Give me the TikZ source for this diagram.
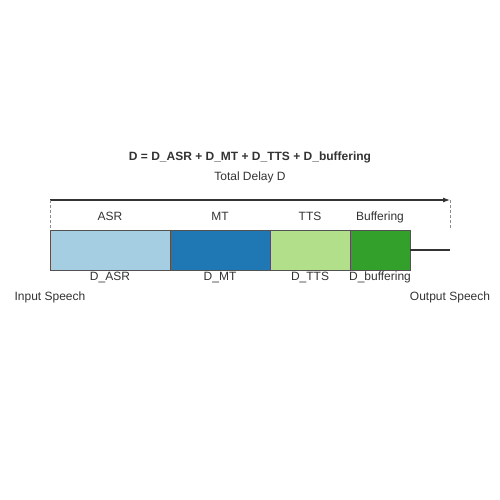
\documentclass[tikz,border=0pt]{standalone}
\usepackage{fontspec}
\setmainfont{Liberation Sans}
\usetikzlibrary{arrows.meta}
\definecolor{casr}{HTML}{A6CEE3}
\definecolor{cmt}{HTML}{1F78B4}
\definecolor{ctts}{HTML}{B2DF8A}
\definecolor{cbuf}{HTML}{33A02C}
\definecolor{edge}{HTML}{333333}
\begin{document}
\begin{tikzpicture}[x=1pt,y=-1pt,
  stage/.style={draw=edge!85,line width=0.9pt,minimum height=40pt,inner sep=0pt,outer sep=0pt,anchor=north west},
  lbl/.style={font=\fontsize{12}{14}\selectfont,text=edge,inner sep=0pt,anchor=base},
  guide/.style={draw=gray!90,dash pattern=on 3pt off 2pt,line width=0.9pt}]
\useasboundingbox (0,0) rectangle (500,500);
\node[stage,fill=casr,minimum width=120pt] (asr) at (50,230) {};
\node[stage,fill=cmt,minimum width=100pt] (mt) at (170,230) {};
\node[stage,fill=ctts,minimum width=80pt] (tts) at (270,230) {};
\node[stage,fill=cbuf,minimum width=60pt] (buf) at (350,230) {};
\coordinate (outend) at (450,250);
\draw[edge,line width=1.2pt] (buf.east) -- (outend);
\coordinate (a0) at (50,200);
\coordinate (a1) at (450,200);
\coordinate (d0) at (50,230);
\coordinate (d1) at (450,228);
\draw[edge,line width=1.1pt,-{Latex[length=7pt,width=5pt]}] (a0) -- (a1);
\draw[guide] (a0) -- (d0);
\draw[guide] (a1) -- (d1);
\node[lbl] (lasr) at (110,220.3) {ASR};
\node[lbl] (lmt) at (220,220.3) {MT};
\node[lbl] (ltts) at (310,220.3) {TTS};
\node[lbl] (lbuf) at (380,220.3) {Buffering};
\node[lbl] (dasr) at (110,280.3) {D\_ASR};
\node[lbl] (dmt) at (220,280.3) {D\_MT};
\node[lbl] (dtts) at (310,280.3) {D\_TTS};
\node[lbl] (dbuf) at (380,280.3) {D\_buffering};
\node[lbl] (in) at (50,300.3) {Input Speech};
\node[lbl] (out) at (450,300.3) {Output Speech};
\node[lbl,font=\fontsize{12}{14}\selectfont\bfseries] (title) at (250,160.3) {D = D\_ASR + D\_MT + D\_TTS + D\_buffering};
\node[lbl] (total) at (250,180.3) {Total Delay D};
\end{tikzpicture}
\end{document}
